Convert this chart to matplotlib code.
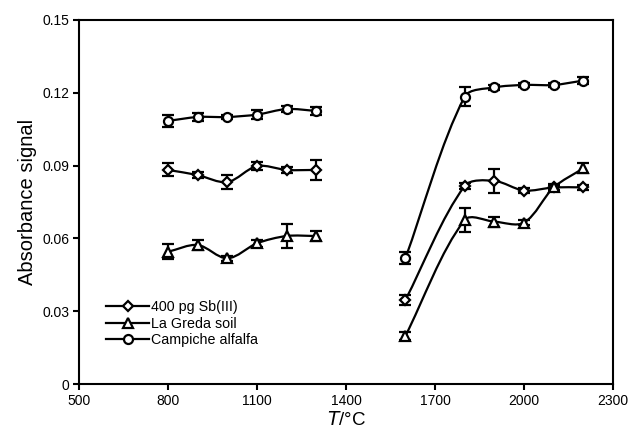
import matplotlib
matplotlib.use("Agg")
import matplotlib.pyplot as plt
from matplotlib.path import Path
from matplotlib.patches import PathPatch
from matplotlib.lines import Line2D
import numpy as np

plt.rcParams['font.family'] = ['Liberation Sans', 'DejaVu Sans']

temps_low = [800, 900, 1000, 1100, 1200, 1300]
temps_high = [1600, 1800, 1900, 2000, 2100, 2200]

sb_low = [0.0882, 0.0861, 0.0832, 0.0898, 0.0882, 0.0882]
sb_low_err = [0.0027, 0.0012, 0.0030, 0.0015, 0.0012, 0.0043]
sb_high = [0.0346, 0.0816, 0.0837, 0.0797, 0.0810, 0.0810]
sb_high_err = [0.0022, 0.0012, 0.0050, 0.0010, 0.0010, 0.0010]

soil_low = [0.0545, 0.0573, 0.0518, 0.0580, 0.0610, 0.0610]
soil_low_err = [0.0031, 0.0020, 0.0010, 0.0015, 0.0050, 0.0019]
soil_high = [0.0198, 0.0676, 0.0669, 0.0665, 0.0810, 0.0889]
soil_high_err = [0.0015, 0.0048, 0.0020, 0.0010, 0.0015, 0.0020]

alf_low = [0.1084, 0.1100, 0.1100, 0.1110, 0.1133, 0.1125]
alf_low_err = [0.0025, 0.0018, 0.0010, 0.0018, 0.0012, 0.0015]
alf_high = [0.0518, 0.1184, 0.1222, 0.1232, 0.1232, 0.1250]
alf_high_err = [0.0025, 0.0040, 0.0010, 0.0010, 0.0010, 0.0015]

labels = ['400 pg Sb(III)', 'La Greda soil', 'Campiche alfalfa']
markers = ['D', '^', 'o']
msizes = [5.5, 6.5, 6.5]


def smooth_path(ax, xs, ys, k=0.3):
    """Smoothed Bezier path through the data points, built in display space."""
    P = ax.transData.transform(np.column_stack([xs, ys]).astype(float))
    n = len(P)
    verts = [P[0]]
    codes = [Path.MOVETO]

    def tangent(i):
        a = P[max(i - 1, 0)]
        b = P[min(i + 1, n - 1)]
        d = b - a
        nrm = np.hypot(*d)
        return d / nrm if nrm > 0 else d

    for i in range(n - 1):
        p1, p2 = P[i], P[i + 1]
        L = np.hypot(*(p2 - p1))
        c1 = p1 + tangent(i) * L * k
        c2 = p2 - tangent(i + 1) * L * k
        verts += [c1, c2, p2]
        codes += [Path.CURVE4] * 3
    verts = ax.transData.inverted().transform(np.array(verts))
    return Path(verts, codes)


fig = plt.figure(figsize=(6.32, 4.42), dpi=100)
ax = fig.add_axes([0.125, 0.131, 0.845, 0.824])
ax.set_xlim(500, 2300)
ax.set_ylim(0, 0.15)

series = [
    (sb_low, sb_low_err, sb_high, sb_high_err),
    (soil_low, soil_low_err, soil_high, soil_high_err),
    (alf_low, alf_low_err, alf_high, alf_high_err),
]

handles = []
for (lo, loe, hi, hie), lab, mk, ms in zip(series, labels, markers, msizes):
    for xs, ys, es in [(temps_low, lo, loe), (temps_high, hi, hie)]:
        ax.add_patch(PathPatch(smooth_path(ax, xs, ys), fill=False,
                               edgecolor='black', lw=1.6, zorder=2))
        ax.errorbar(xs, ys, yerr=es, color='black', ls='none', marker=mk, ms=ms,
                    mfc='white', mec='black', mew=1.6, ecolor='black',
                    elinewidth=1.6, capsize=4, capthick=1.6, zorder=3)
    handles.append(Line2D([], [], color='black', lw=1.6, marker=mk, ms=ms,
                          mfc='white', mec='black', mew=1.6))

ax.set_xticks([500, 800, 1100, 1400, 1700, 2000, 2300])
ax.set_yticks([0, 0.03, 0.06, 0.09, 0.12, 0.15])
ax.set_yticklabels(['0', '0.03', '0.06', '0.09', '0.12', '0.15'])
ax.tick_params(direction='out', length=4, width=1.5, labelsize=10, pad=3)
for s in ax.spines.values():
    s.set_linewidth(1.5)

ax.set_ylabel('Absorbance signal', fontsize=14.5, labelpad=4)
ax.set_xlabel(r'$\it{T}$/°C', fontsize=13.5, labelpad=2)

ax.legend(handles, labels, loc='lower left', bbox_to_anchor=(0.04, 0.085),
          frameon=False, fontsize=10.3, handlelength=3.0, handletextpad=0.15,
          labelspacing=0.2, borderaxespad=0)

fig.savefig('out.png', dpi=100)
